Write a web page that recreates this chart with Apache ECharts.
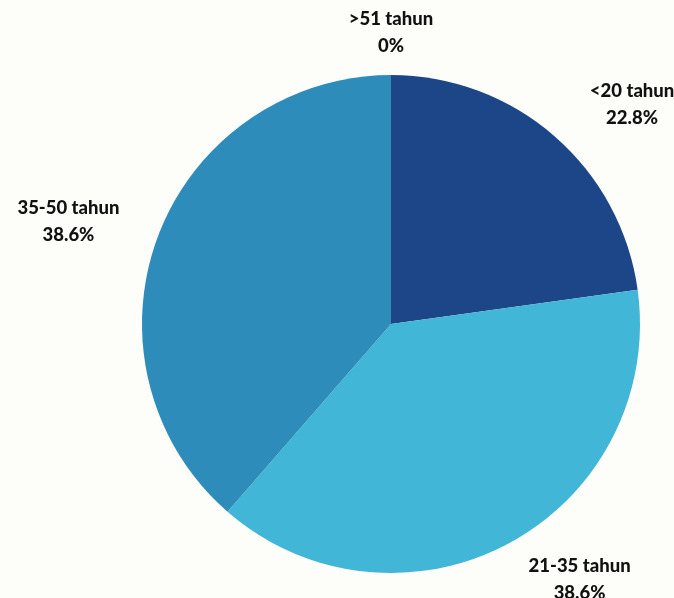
<!DOCTYPE html>
<html lang="en">
<head>
    <meta charset="UTF-8">
    <title>Pie umur</title>
    <script src="https://cdn.jsdelivr.net/npm/echarts@6/dist/echarts.min.js"></script>
    <style>
        html, body { margin: 0; padding: 0; background: #fdfdf9; }
    </style>
</head>
<body>
<div id="main" style="width:674px;height:598px;"></div>
<script>
// kelompok umur dan persentase
var kategori = ['<20 tahun', '21-35 tahun', '35-50 tahun', '>51 tahun'];
var persen = [22.8, 38.6, 38.6, 0];

var dataPie = [];
for (var i = 0; i < kategori.length; i++) {
    var item = {name: kategori[i], value: persen[i]};
    if (persen[i] === 0) {
        // label slice kosong di atas, tepat di tengah
        item.label = {distanceToLabelLine: 0};
    }
    dataPie.push(item);
}

var myChart = echarts.init(document.getElementById('main'));

var option = {
    backgroundColor: '#fdfdf9',
    color: ['#1c4688', '#41b6d7', '#2e8cbb', '#6a6a6a'],
    animation: false,
    series: [
        {
            type: 'pie',
            center: [391, 324],
            radius: 249,
            startAngle: 90,
            clockwise: true,
            avoidLabelOverlap: false,
            data: dataPie,
            label: {
                show: true,
                position: 'outside',
                formatter: '{b}\n{c}%',
                fontFamily: 'Lato',
                fontWeight: 900,
                fontSize: 18.5,
                lineHeight: 27,
                color: '#111111',
                distanceToLabelLine: 50
            },
            labelLine: {
                show: false,
                length: 42,
                length2: 0
            },
            labelLayout: function () {
                return {align: 'center'};
            },
            itemStyle: {
                borderWidth: 0
            }
        }
    ]
};

myChart.setOption(option);
</script>
</body>
</html>
